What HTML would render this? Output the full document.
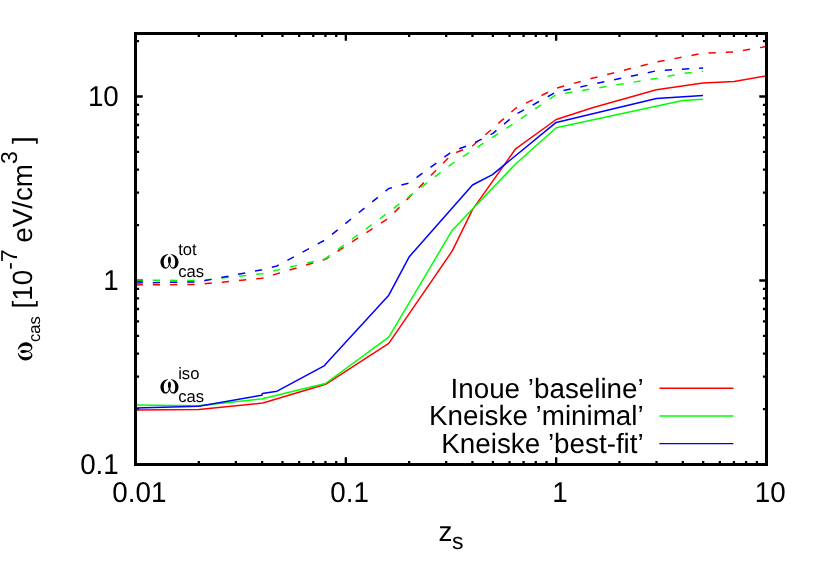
<!DOCTYPE html>
<html><head><meta charset="utf-8"><title>omega_cas vs z_s</title>
<style>html,body{margin:0;padding:0;background:#fff;}svg{display:block;will-change:transform;}text{font-family:"Liberation Sans", sans-serif;fill:#000;font-kerning:none;font-variant-ligatures:none;letter-spacing:0;text-rendering:geometricPrecision;}</style></head>
<body>
<svg width="830" height="581" viewBox="0 0 830 581">
<rect x="0" y="0" width="830" height="581" fill="#ffffff"/>
<path d="M198.82 464.50V460.90M198.82 33.50V37.10M235.85 464.50V460.90M235.85 33.50V37.10M262.13 464.50V460.90M262.13 33.50V37.10M282.52 464.50V460.90M282.52 33.50V37.10M299.17 464.50V460.90M299.17 33.50V37.10M313.25 464.50V460.90M313.25 33.50V37.10M325.45 464.50V460.90M325.45 33.50V37.10M336.21 464.50V460.90M336.21 33.50V37.10M345.83 464.50V457.30M345.83 33.50V40.70M409.15 464.50V460.90M409.15 33.50V37.10M446.19 464.50V460.90M446.19 33.50V37.10M472.47 464.50V460.90M472.47 33.50V37.10M492.85 464.50V460.90M492.85 33.50V37.10M509.50 464.50V460.90M509.50 33.50V37.10M523.59 464.50V460.90M523.59 33.50V37.10M535.78 464.50V460.90M535.78 33.50V37.10M546.54 464.50V460.90M546.54 33.50V37.10M556.17 464.50V457.30M556.17 33.50V40.70M619.48 464.50V460.90M619.48 33.50V37.10M656.52 464.50V460.90M656.52 33.50V37.10M682.80 464.50V460.90M682.80 33.50V37.10M703.18 464.50V460.90M703.18 33.50V37.10M719.84 464.50V460.90M719.84 33.50V37.10M733.92 464.50V460.90M733.92 33.50V37.10M746.12 464.50V460.90M746.12 33.50V37.10M756.88 464.50V460.90M756.88 33.50V37.10M135.50 409.11H139.10M766.50 409.11H762.90M135.50 376.71H139.10M766.50 376.71H762.90M135.50 353.72H139.10M766.50 353.72H762.90M135.50 335.89H139.10M766.50 335.89H762.90M135.50 321.32H139.10M766.50 321.32H762.90M135.50 309.00H139.10M766.50 309.00H762.90M135.50 298.33H139.10M766.50 298.33H762.90M135.50 288.92H139.10M766.50 288.92H762.90M135.50 280.50H142.70M766.50 280.50H759.30M135.50 225.11H139.10M766.50 225.11H762.90M135.50 192.71H139.10M766.50 192.71H762.90M135.50 169.72H139.10M766.50 169.72H762.90M135.50 151.89H139.10M766.50 151.89H762.90M135.50 137.32H139.10M766.50 137.32H762.90M135.50 125.00H139.10M766.50 125.00H762.90M135.50 114.33H139.10M766.50 114.33H762.90M135.50 104.92H139.10M766.50 104.92H762.90M135.50 96.50H142.70M766.50 96.50H759.30M135.50 41.11H139.10M766.50 41.11H762.90" stroke="#000" stroke-width="2.3" fill="none"/>
<g fill="none" stroke-linejoin="round" stroke-linecap="butt">
<polyline points="135.5,410.0 198.8,409.4 262.9,403.0 325.6,384.3 388.8,343.3 452.3,250.9 472.5,209.6 515.3,149.2 556.2,119.5 593.3,107.5 656.4,89.7 703.0,83.0 734.1,81.6 766.0,76.0" stroke="#ff0000" stroke-width="1.5"/>
<polyline points="135.5,404.9 198.8,405.8 262.3,398.8 325.5,383.5 388.8,337.1 452.3,230.2 515.3,164.3 556.2,127.7 682.7,100.6 703.0,99.2" stroke="#00ff00" stroke-width="1.5"/>
<polyline points="135.5,408.0 198.8,406.3 261.9,395.2 262.3,393.4 277.1,391.2 324.6,365.7 325.5,364.2 388.8,295.2 409.3,256.7 472.5,185.0 492.5,174.6 556.2,122.4 656.4,98.5 703.0,95.6" stroke="#0000ff" stroke-width="1.5"/>
<polyline points="135.5,284.9 198.8,284.4 262.1,278.2 325.4,259.3 388.8,218.0 452.1,154.1 472.4,146.0 515.4,108.5 556.2,88.2 593.2,78.0 656.5,62.0 703.1,53.2 734.1,52.0 766.0,46.6" stroke="#ff0000" stroke-width="1.5" stroke-dasharray="7.3 9.985"/>
<polyline points="135.5,280.0 198.8,280.6 262.1,273.7 325.4,258.7 388.8,212.1 452.1,163.7 515.4,122.4 556.2,94.6 656.5,78.4 682.8,73.4 703.1,71.3" stroke="#00ff00" stroke-width="1.5" stroke-dasharray="7.3 10.000"/>
<polyline points="135.5,283.0 198.8,281.8 262.1,269.7 277.1,265.9 325.4,239.8 388.8,188.5 409.1,183.0 452.1,151.5 472.4,143.8 492.9,133.4 515.4,114.6 556.2,92.0 656.5,70.8 703.1,67.9" stroke="#0000ff" stroke-width="1.5" stroke-dasharray="7.3 9.920"/>
</g>
<line x1="659.4" y1="388.2" x2="733.4" y2="388.2" stroke="#ff0000" stroke-width="1.45"/>
<text x="643.7" y="397.5" font-size="27.80" text-anchor="end">Inoue ’baseline’</text>
<line x1="659.4" y1="415.9" x2="733.4" y2="415.9" stroke="#00ff00" stroke-width="1.45"/>
<text x="643.7" y="425.2" font-size="27.80" text-anchor="end">Kneiske ’minimal’</text>
<line x1="659.4" y1="443.6" x2="733.4" y2="443.6" stroke="#0000ff" stroke-width="1.45"/>
<text x="643.7" y="452.9" font-size="27.80" text-anchor="end">Kneiske ’best-fit’</text>
<rect x="135.5" y="33.5" width="631.0" height="431.0" fill="none" stroke="#000" stroke-width="3"/>
<text transform="translate(118.8 105.8) scale(1 1.028)" font-size="27.80" text-anchor="end">10</text>
<text transform="translate(118.8 289.8) scale(1 1.028)" font-size="27.80" text-anchor="end">1</text>
<text transform="translate(118.8 473.8) scale(1 1.028)" font-size="27.80" text-anchor="end">0.1</text>
<text transform="translate(139.3 501.5) scale(1 1.028)" font-size="27.80" text-anchor="middle">0.01</text>
<text transform="translate(349.6 501.5) scale(1 1.028)" font-size="27.80" text-anchor="middle">0.1</text>
<text transform="translate(560.0 501.5) scale(1 1.028)" font-size="27.80" text-anchor="middle">1</text>
<text transform="translate(770.3 501.5) scale(1 1.028)" font-size="27.80" text-anchor="middle">10</text>
<text x="438.6" y="540.6" font-size="27.80">z<tspan font-size="23.00" dy="8.4" dx="-0.6">s</tspan></text>
<g transform="translate(31.5 360.3) rotate(-90)">
<path transform="translate(0 0.8)" d="M7.56 -14.59 C2.69 -13.84 -0.17 -10.33 -0.17 -6.82 C-0.17 -2.81 2.27 0.12 4.96 0.12 C6.82 0.12 8.26 -1.53 8.88 -3.55 C9.50 -1.53 10.95 0.12 12.81 0.12 C15.50 0.12 17.93 -2.81 17.93 -6.82 C17.93 -10.33 15.08 -13.84 10.21 -14.59 L10.70 -13.84 C13.22 -12.52 14.63 -10.12 14.63 -6.82 C14.63 -3.31 13.76 -1.16 12.40 -1.16 C10.95 -1.16 9.75 -2.89 9.59 -4.67 C10.79 -7.02 10.70 -11.98 8.88 -11.98 C7.07 -11.98 6.98 -7.02 8.18 -4.67 C8.02 -2.89 6.82 -1.16 5.37 -1.16 C4.01 -1.16 3.14 -3.31 3.14 -6.82 C3.14 -10.12 4.55 -12.52 7.07 -13.84 Z" fill="#000"><title>ω</title></path>
<text x="18.3" y="0" font-size="27.80"><tspan font-size="16.60" dy="8.0">cas</tspan><tspan font-size="27.80" dy="-8.0"> [10</tspan><tspan font-size="23.00" dy="-14.6">-7</tspan><tspan font-size="27.80" dy="14.6" dx="-1.2"> eV/cm</tspan><tspan font-size="23.00" dy="-14.6">3</tspan><tspan font-size="27.80" dy="14.6" dx="-0.4"> ]</tspan></text>
</g>
<path transform="translate(160.6 268.6)" d="M7.56 -14.59 C2.69 -13.84 -0.17 -10.33 -0.17 -6.82 C-0.17 -2.81 2.27 0.12 4.96 0.12 C6.82 0.12 8.26 -1.53 8.88 -3.55 C9.50 -1.53 10.95 0.12 12.81 0.12 C15.50 0.12 17.93 -2.81 17.93 -6.82 C17.93 -10.33 15.08 -13.84 10.21 -14.59 L10.70 -13.84 C13.22 -12.52 14.63 -10.12 14.63 -6.82 C14.63 -3.31 13.76 -1.16 12.40 -1.16 C10.95 -1.16 9.75 -2.89 9.59 -4.67 C10.79 -7.02 10.70 -11.98 8.88 -11.98 C7.07 -11.98 6.98 -7.02 8.18 -4.67 C8.02 -2.89 6.82 -1.16 5.37 -1.16 C4.01 -1.16 3.14 -3.31 3.14 -6.82 C3.14 -10.12 4.55 -12.52 7.07 -13.84 Z" fill="#000"><title>ω</title></path>
<text x="178.2" y="254.9" font-size="16.60">tot</text>
<text x="178.2" y="277.3" font-size="16.60">cas</text>
<path transform="translate(160.6 393.5)" d="M7.56 -14.59 C2.69 -13.84 -0.17 -10.33 -0.17 -6.82 C-0.17 -2.81 2.27 0.12 4.96 0.12 C6.82 0.12 8.26 -1.53 8.88 -3.55 C9.50 -1.53 10.95 0.12 12.81 0.12 C15.50 0.12 17.93 -2.81 17.93 -6.82 C17.93 -10.33 15.08 -13.84 10.21 -14.59 L10.70 -13.84 C13.22 -12.52 14.63 -10.12 14.63 -6.82 C14.63 -3.31 13.76 -1.16 12.40 -1.16 C10.95 -1.16 9.75 -2.89 9.59 -4.67 C10.79 -7.02 10.70 -11.98 8.88 -11.98 C7.07 -11.98 6.98 -7.02 8.18 -4.67 C8.02 -2.89 6.82 -1.16 5.37 -1.16 C4.01 -1.16 3.14 -3.31 3.14 -6.82 C3.14 -10.12 4.55 -12.52 7.07 -13.84 Z" fill="#000"><title>ω</title></path>
<text x="178.2" y="378.8" font-size="16.60">iso</text>
<text x="178.2" y="402.0" font-size="16.60">cas</text>
</svg>
</body></html>
